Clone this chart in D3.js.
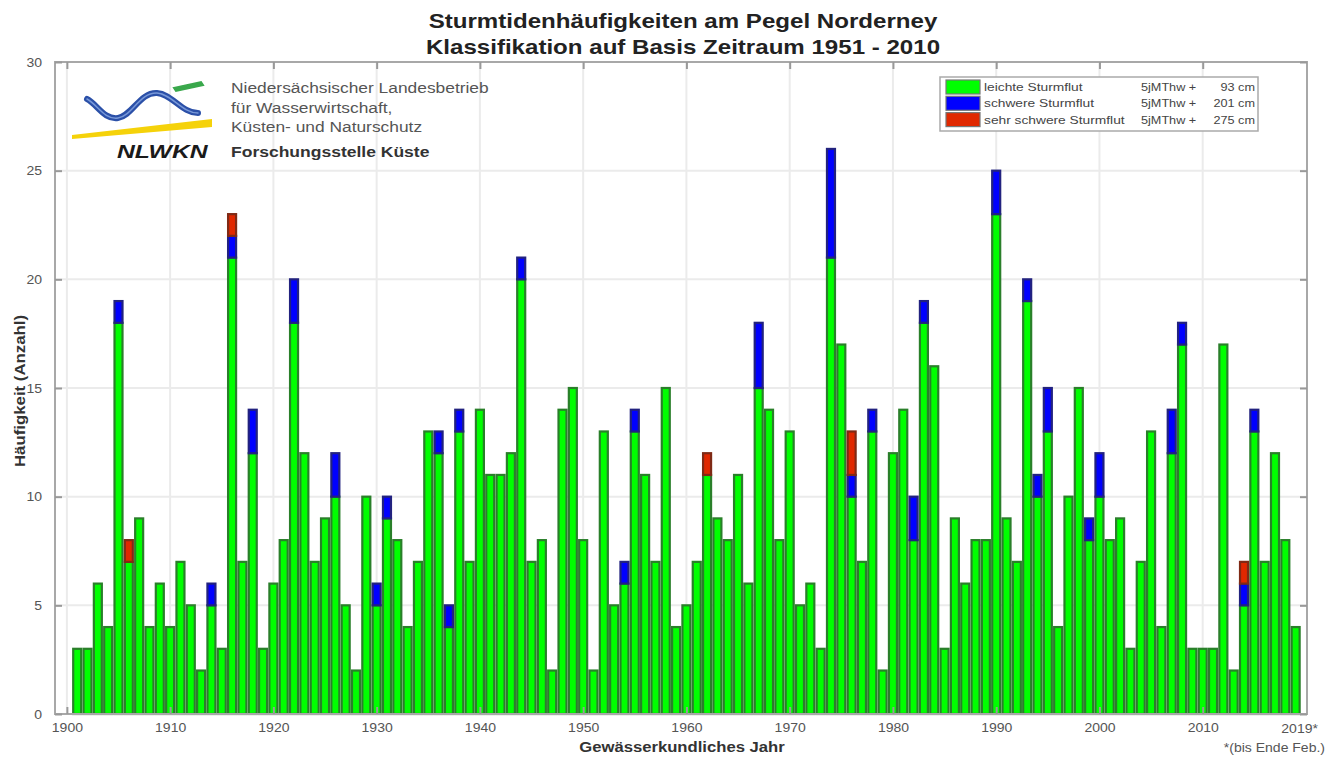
<!DOCTYPE html>
<html><head><meta charset="utf-8">
<script src="https://cdn.jsdelivr.net/npm/d3@7/dist/d3.min.js"></script>
<style>body{margin:0;background:#fff;}svg{display:block;font-family:"Liberation Sans",Arial,sans-serif;}</style>
</head><body><svg id="c" width="1331" height="758"></svg>
<script>
const years = d3.range(1901, 2020);
const leicht = [3,3,6,4,18,7,9,4,6,4, 7,5,2,5,3,21,7,12,3,6, 8,18,12,7,9,10,5,2,10,5, 9,8,4,7,13,12,4,13,7,14,
 11,11,12,20,7,8,2,14,15,8, 2,13,5,6,13,11,7,15,4,5, 7,11,9,8,11,6,15,14,8,13, 5,6,3,21,17,10,7,13,2,12,
 14,8,18,16,3,9,6,8,8,23, 9,7,19,10,13,4,10,15,8,10, 8,9,3,7,13,4,12,17,3,3, 3,17,2,5,13,7,12,8,4];
const schwerYears = [1905,1914,1916,1918,1922,1926,1930,1931,1936,1937,1938,1944,1954,1955,1967,1974,1976,1978,1982,1983,1990,1993,1994,1995,1999,2000,2007,2008,2014,2015];
const schwerVals  = [1,1,1,2,2,2,1,1,1,1,1,1,1,1,3,5,1,1,2,1,2,1,1,2,1,2,2,1,1,1];
const sehrYears = [1906,1916,1962,1976,2014];
const sehrVals  = [1,1,1,2,1];
const yTicks = [0,5,10,15,20,25,30];
const xTicks = [1900,1910,1920,1930,1940,1950,1960,1970,1980,1990,2000,2010];
const seriesNames = ["leichte Sturmflut","schwere Sturmflut","sehr schwere Sturmflut"];
const seriesInfo = ["93 cm","201 cm","275 cm"];
const fills = ["#00ff00","#0000ff","#e02800"];
const edges = ["#2a7f2a","#22227f","#7f2a15"];

const rows = years.map((yr,i)=>({year:yr,
  leicht:leicht[i],
  schwer:(schwerYears.indexOf(yr)>=0?schwerVals[schwerYears.indexOf(yr)]:0),
  sehr:(sehrYears.indexOf(yr)>=0?sehrVals[sehrYears.indexOf(yr)]:0)}));
const stacked = d3.stack().keys(["leicht","schwer","sehr"])(rows);

const svg = d3.select("#c");
const L=55,R=1307,T=62,B=714;
const x = d3.scaleLinear().domain([1898.85,2020.1]).range([L,R]);
const y = d3.scaleLinear().domain([0,30]).range([B,T]);

// stretch text horizontally by factor k
function stretch(sel,k){sel.each(function(){const w=this.getComputedTextLength();d3.select(this).attr("textLength",w*k).attr("lengthAdjust","spacingAndGlyphs");});return sel;}
function txt(parent,xx,yy,s,size,opts){opts=opts||{};
  const t=parent.append("text").attr("x",xx).attr("y",yy).attr("fill",opts.fill||"#555").style("font-size",size+"px").text(s);
  if(opts.anchor)t.attr("text-anchor",opts.anchor);
  if(opts.bold)t.style("font-weight","bold");
  if(opts.italic)t.style("font-style","italic");
  if(opts.transform)t.attr("transform",opts.transform);
  if(opts.k)stretch(t,opts.k);
  return t;}

// grid
const g = svg.append("g");
g.selectAll(".gx").data(xTicks).join("line").attr("x1",d=>x(d)).attr("x2",d=>x(d)).attr("y1",T).attr("y2",B)
 .attr("stroke","#ebebeb").attr("stroke-width",2);
g.selectAll(".gy").data(yTicks).join("line").attr("x1",L).attr("x2",R).attr("y1",d=>y(d)).attr("y2",d=>y(d))
 .attr("stroke","#ebebeb").attr("stroke-width",2);

// bars
const bw = 8.0;
stacked.forEach((s,si)=>{
  svg.append("g").selectAll("rect").data(s.filter(d=>d[1]>d[0])).join("rect")
   .attr("x",d=>x(d.data.year)-bw/2).attr("width",bw)
   .attr("y",d=>y(d[1])).attr("height",d=>y(d[0])-y(d[1]))
   .attr("fill",fills[si]).attr("stroke",edges[si]).attr("stroke-width",2.2);
});

// axes box and ticks
const ax = svg.append("g");
ax.append("rect").attr("x",L).attr("y",T).attr("width",R-L).attr("height",B-T).attr("fill","none").attr("stroke","#a8a8a8").attr("stroke-width",2);
const axBottom = d3.axisBottom(x).tickValues(xTicks).tickSize(-7).tickFormat(d3.format("d"));
const axTop = d3.axisTop(x).tickValues(xTicks).tickSize(-7).tickFormat("");
const axLeft = d3.axisLeft(y).tickValues(yTicks).tickSize(-7);
const axRight = d3.axisRight(y).tickValues(yTicks).tickSize(-7).tickFormat("");
function styleAxis(sel){sel.select(".domain").remove();sel.selectAll(".tick line").attr("stroke","#999").attr("stroke-width",2);
 sel.selectAll(".tick text").attr("fill","#555").style("font-size","12.5px").style("font-family","'Liberation Sans',Arial,sans-serif");}
const gb = ax.append("g").attr("transform",`translate(0,${B})`).call(axBottom).call(styleAxis);
stretch(gb.selectAll(".tick text").attr("dy","1.2em"),1.12);
ax.append("g").attr("transform",`translate(0,${T})`).call(axTop).call(styleAxis);
const gl = ax.append("g").attr("transform",`translate(${L},0)`).call(axLeft).call(styleAxis);
stretch(gl.selectAll(".tick text").attr("dx","-0.8em"),1.12);
ax.append("g").attr("transform",`translate(${R},0)`).call(axRight).call(styleAxis);
txt(ax,x(2019)+4,733,"2019*",12.5,{anchor:"middle",k:1.12});
txt(svg,1325,752,"*(bis Ende Feb.)",12.5,{anchor:"end",k:1.12});

// labels
txt(svg,682,752,"Gewässerkundliches Jahr",14,{anchor:"middle",bold:true,fill:"#333",k:1.19});
txt(svg,0,0,"Häufigkeit (Anzahl)",14,{anchor:"middle",bold:true,fill:"#333",k:1.2,transform:"translate(25,391) rotate(-90)"});
txt(svg,683,28,"Sturmtidenhäufigkeiten am Pegel Norderney",20.5,{anchor:"middle",bold:true,fill:"#222",k:1.175});
txt(svg,683,54,"Klassifikation auf Basis Zeitraum 1951 - 2010",20.5,{anchor:"middle",bold:true,fill:"#222",k:1.175});

// legend
const lg = svg.append("g");
lg.append("rect").attr("x",940).attr("y",77).attr("width",318).attr("height",54).attr("fill","#fff").attr("stroke","#aaa").attr("stroke-width",1.5);
seriesNames.forEach((n,i)=>{
  const yy = 80+i*16.3;
  lg.append("rect").attr("x",946).attr("y",yy).attr("width",34).attr("height",14).attr("fill",fills[i]).attr("stroke","#777").attr("stroke-width",1.2);
  txt(lg,984,yy+11,n,11,{fill:"#444",k:1.25});
  txt(lg,1141,yy+11,"5jMThw +",11,{fill:"#444",k:1.15});
  txt(lg,1255,yy+11,seriesInfo[i],11,{anchor:"end",fill:"#444",k:1.15});
});

// logo
const lo = svg.append("g");
const wave = "M87,99 C97,104 104,120 118,118 C132,116 140,92 157,93 C172,94 182,113 198,113";
lo.append("path").attr("d",wave).attr("fill","none").attr("stroke","#2b50a8").attr("stroke-width",6).attr("stroke-linecap","round");
lo.append("path").attr("d",wave).attr("fill","none").attr("stroke","#7898d8").attr("stroke-width",1.5).attr("stroke-linecap","round");
lo.append("path").attr("d","M174,88 L201,82 L203,85 L176,91 Z").attr("fill","#3aa84c").attr("stroke","#3aa84c").attr("stroke-width",2);
lo.append("path").attr("d","M72,135 L212,119 L212,127 L72,139 Z").attr("fill","#f5d20a");
txt(lo,117,158,"NLWKN",19,{fill:"#1a1a1a",bold:true,italic:true,k:1.3});
const lt = ["Niedersächsischer Landesbetrieb","für Wasserwirtschaft,","Küsten- und Naturschutz"];
lt.forEach((t,i)=>txt(lo,231,93+i*19.5,t,14,{fill:"#555",k:1.24}));
txt(lo,231,157,"Forschungsstelle Küste",14,{fill:"#333",bold:true,k:1.25});
</script></body></html>
